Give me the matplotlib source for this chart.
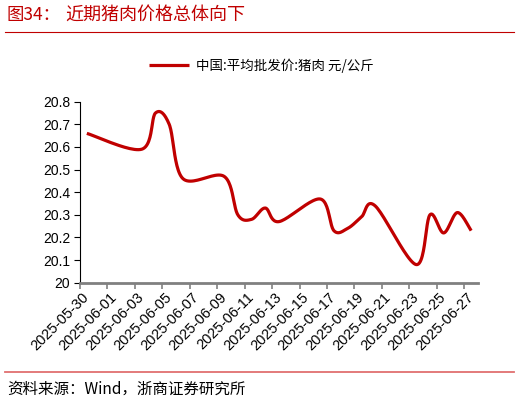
import numpy as np
import pandas as pd
import matplotlib
matplotlib.use("Agg")
import matplotlib.pyplot as plt
from matplotlib.lines import Line2D

plt.rcParams['font.family'] = ['Liberation Sans', 'Noto Sans CJK SC', 'DejaVu Sans']

# 中国:平均批发价:猪肉 (元/公斤), trading days only
dates = ["2025-05-30", "2025-06-03", "2025-06-04", "2025-06-05", "2025-06-06",
         "2025-06-09", "2025-06-10", "2025-06-11", "2025-06-12", "2025-06-13",
         "2025-06-16", "2025-06-17", "2025-06-18", "2025-06-19", "2025-06-20",
         "2025-06-23", "2025-06-24", "2025-06-25", "2025-06-26", "2025-06-27"]
prices = [20.66, 20.59, 20.75, 20.70, 20.46,
          20.47, 20.30, 20.28, 20.33, 20.27,
          20.37, 20.23, 20.24, 20.29, 20.34,
          20.08, 20.30, 20.22, 20.31, 20.23]
tick_labels = [d.strftime("%Y-%m-%d") for d in pd.date_range("2025-05-30", "2025-06-27", freq="2D")]
yticks = [20.0, 20.1, 20.2, 20.3, 20.4, 20.5, 20.6, 20.7, 20.8]

RED = "#C00000"
start = pd.Timestamp(dates[0])
days = np.array([(pd.Timestamp(d) - start).days for d in dates], dtype=float) + 0.5
n_days = (pd.Timestamp(dates[-1]) - start).days + 1


def smooth(x, y, sx, sy, n=25):
    # excel-ish smoothed line: bezier through points, handles at 1/6 of neighbour span (screen space)
    p = np.column_stack([np.asarray(x) * sx, np.asarray(y) * sy])
    pad = np.vstack([p[0], p, p[-1]])
    out = []
    t = np.linspace(0, 1, n)[:, None]
    for i in range(len(p) - 1):
        p0, p1, p2, p3 = pad[i], pad[i + 1], pad[i + 2], pad[i + 3]
        c1 = p1 + (p2 - p0) / 6
        c2 = p2 - (p3 - p1) / 6
        seg = (1 - t) ** 3 * p1 + 3 * (1 - t) ** 2 * t * c1 + 3 * (1 - t) * t ** 2 * c2 + t ** 3 * p2
        out.append(seg if i == 0 else seg[1:])
    s = np.vstack(out)
    return s[:, 0] / sx, s[:, 1] / sy


fig = plt.figure(figsize=(5.2, 4.03), dpi=100)
ax = fig.add_axes([80 / 520, (403 - 282.7) / 403, 398 / 520, 181 / 403])

xs, ys = smooth(days, prices, 13.7, 226)
ax.plot(xs, ys, color=RED, lw=2.3, solid_capstyle="butt", label="中国:平均批发价:猪肉 元/公斤")

ax.set_xlim(0, n_days)
ax.set_ylim(20, 20.8)
ax.set_yticks(yticks)
ax.set_yticklabels([f"{v:g}" for v in yticks], fontsize=10)
ax.tick_params(axis="y", direction="out", length=4, width=0.8, color="black", pad=3)

ax.set_xticks(np.arange(0, n_days, 2))
ax.set_xticklabels([])
ax.set_xticks(np.arange(0, n_days, 2) + 0.5, minor=True)
ax.set_xticklabels(tick_labels, minor=True, rotation=45, ha="right", va="center",
                   rotation_mode="anchor", fontsize=10.5)
ax.tick_params(axis="x", which="major", direction="out", length=4, width=1.2, color="#808080")
ax.tick_params(axis="x", which="minor", length=0, pad=9)

for side in ("top", "right"):
    ax.spines[side].set_visible(False)
ax.spines["left"].set_color("black")
ax.spines["left"].set_linewidth(0.8)
ax.spines["bottom"].set_color("#808080")
ax.spines["bottom"].set_linewidth(2)

fig.legend(loc="center", bbox_to_anchor=(0.502, 1 - 65.7 / 403), frameon=False,
           handlelength=3.0, handletextpad=0.5, prop={"family": ["Noto Sans CJK SC"], "size": 9.7})

cjk = ["Noto Sans CJK SC"]
fig.text(7 / 520, 1 - 15 / 403, "图34：", color=RED, fontsize=12.5, va="center", ha="left", family=cjk)
fig.text(65 / 520, 1 - 15 / 403, "近期猪肉价格总体向下", color=RED, fontsize=13,
         va="center", ha="left", family=cjk)
fig.add_artist(Line2D([5 / 520, 514 / 520], [1 - 31.7 / 403] * 2, color=RED, lw=0.8))
fig.add_artist(Line2D([5 / 520, 514 / 520], [1 - 371.7 / 403] * 2, color="#E07070", lw=1.3))
fig.text(7 / 520, 1 - 389 / 403, "资料来源：Wind，浙商证券研究所", color="black", fontsize=11.2,
         va="center", ha="left", family=cjk)

fig.savefig("out.png", dpi=100)
